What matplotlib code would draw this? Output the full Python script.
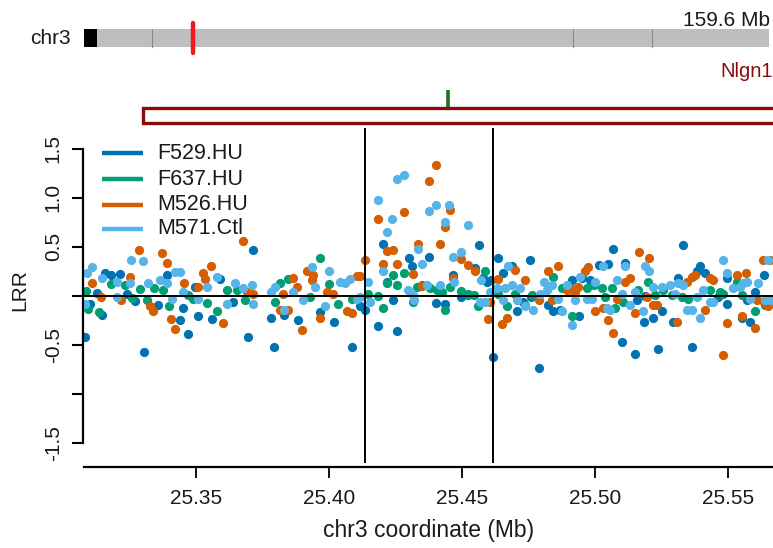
import matplotlib
matplotlib.use("Agg")
import matplotlib.pyplot as plt
from matplotlib.patches import Rectangle
from matplotlib.lines import Line2D

plt.rcParams['font.family'] = ['Liberation Sans', 'DejaVu Sans']

# ---------------- data ----------------
samples = ["F529.HU", "F637.HU", "M526.HU", "M571.Ctl"]
colors = ["#0072B2", "#009E73", "#D55E00", "#56B4E9"]

f529_pos = [25.3084, 25.3102, 25.3130, 25.3146, 25.3215, 25.3307, 25.3391, 25.3441, 25.3453, 25.3472,
            25.3497, 25.3510, 25.3560, 25.3591, 25.3641, 25.3698, 25.3714, 25.3782, 25.3795, 25.3833,
            25.3883, 25.3967, 25.4021, 25.4089, 25.4118, 25.4136, 25.4184, 25.4203, 25.4218, 25.4240,
            25.4256, 25.4301, 25.4314, 25.4376, 25.4402, 25.4437, 25.4468, 25.4497, 25.4525, 25.4550,
            25.4564, 25.4581, 25.4596, 25.4612, 25.4619, 25.4637, 25.4656, 25.4688, 25.4707, 25.4732,
            25.4757, 25.4760, 25.4792, 25.4825, 25.4842, 25.4870, 25.4913, 25.4942, 25.4951, 25.4982,
            25.5017, 25.5051, 25.5070, 25.5101, 25.5114, 25.5151, 25.5158, 25.5185, 25.5189, 25.5220,
            25.5239, 25.5252, 25.5293, 25.5314, 25.5331, 25.5365, 25.5383, 25.5396, 25.5415, 25.5465,
            25.5496, 25.5498, 25.5553, 25.5572, 25.5584, 25.5603, 25.5637,
            25.3160, 25.3180, 25.3240, 25.3270, 25.3360]
f529_lrr = [-0.42, -0.08, 0.03, -0.20, 0.22, -0.57, 0.21, -0.25, -0.13, -0.39,
            0.09, -0.21, -0.24, 0.17, -0.06, -0.42, 0.47, -0.23, -0.52, -0.20,
            -0.25, -0.17, -0.27, -0.52, -0.11, -0.15, -0.31, 0.53, 0.14, -0.04,
            -0.36, 0.38, 0.30, 0.39, -0.07, -0.08, 0.21, -0.01, 0.01, 0.28,
            0.52, 0.18, 0.14, 0.16, -0.63, 0.38, 0.23, 0.30, -0.16, -0.06,
            0.36, -0.01, -0.74, -0.09, -0.16, -0.15, 0.16, -0.21, 0.18, 0.16,
            0.31, 0.32, 0.48, -0.47, 0.33, -0.59, -0.04, -0.27, 0.00, -0.23,
            -0.54, -0.16, -0.27, 0.18, 0.52, -0.52, 0.25, 0.30, 0.23, -0.01,
            -0.08, 0.18, -0.23, -0.04, -0.27, 0.04, 0.21,
            0.23, 0.21, 0.02, -0.05, -0.10]

f637_pos = [25.3087, 25.3137, 25.3234, 25.3290, 25.3316, 25.3378, 25.3401, 25.3491, 25.3541, 25.3579,
            25.3616, 25.3654, 25.3685, 25.3798, 25.3817, 25.3848, 25.3930, 25.3967, 25.4002, 25.4036,
            25.4086, 25.4149, 25.4184, 25.4203, 25.4218, 25.4240, 25.4256, 25.4283, 25.4316, 25.4331,
            25.4352, 25.4381, 25.4406, 25.4425, 25.4437, 25.4456, 25.4497, 25.4525, 25.4546, 25.4562,
            25.4588, 25.4637, 25.4669, 25.4700, 25.4738, 25.4763, 25.4844, 25.4876, 25.4907, 25.4913,
            25.4970, 25.4997, 25.5026, 25.5039, 25.5064, 25.5076, 25.5107, 25.5164, 25.5202, 25.5227,
            25.5258, 25.5290, 25.5327, 25.5352, 25.5434, 25.5471, 25.5484, 25.5534, 25.5553, 25.5603,
            25.5640,
            25.3095, 25.3180, 25.3260, 25.3345, 25.3470]
f637_lrr = [0.05, -0.17, 0.11, 0.07, -0.04, 0.06, -0.11, -0.03, -0.07, -0.16,
            0.06, 0.06, -0.04, -0.06, 0.13, 0.17, -0.01, 0.38, 0.12, -0.08,
            -0.03, 0.02, 0.00, -0.13, 0.13, 0.21, 0.11, 0.23, -0.06, 0.09,
            0.11, 0.08, 0.06, 0.04, -0.15, 0.09, 0.05, 0.02, 0.01, -0.11,
            0.25, 0.02, -0.11, 0.02, -0.09, 0.01, 0.19, 0.08, 0.08, -0.21,
            0.08, 0.11, 0.08, -0.01, 0.08, -0.13, -0.06, 0.06, 0.14, 0.01,
            0.06, 0.01, -0.01, -0.03, 0.06, 0.04, 0.02, 0.14, 0.01, -0.16,
            -0.09,
            -0.14, 0.12, -0.02, 0.08, 0.01]

m526_pos = [25.3112, 25.3143, 25.3219, 25.3253, 25.3288, 25.3328, 25.3338, 25.3372, 25.3393, 25.3406,
            25.3422, 25.3456, 25.3510, 25.3529, 25.3535, 25.3557, 25.3604, 25.3679, 25.3692, 25.3717,
            25.3817, 25.3829, 25.3848, 25.3867, 25.3880, 25.3898, 25.3917, 25.3936, 25.3942, 25.3967,
            25.3992, 25.4017, 25.4068, 25.4086, 25.4105, 25.4118, 25.4136, 25.4184, 25.4203, 25.4220,
            25.4240, 25.4257, 25.4282, 25.4316, 25.4335, 25.4352, 25.4376, 25.4402, 25.4418, 25.4437,
            25.4456, 25.4468, 25.4497, 25.4525, 25.4550, 25.4600, 25.4606, 25.4637, 25.4650, 25.4669,
            25.4700, 25.4738, 25.4792, 25.4825, 25.4838, 25.4861, 25.4895, 25.4913, 25.4926, 25.4938,
            25.4963, 25.4976, 25.5001, 25.5032, 25.5051, 25.5070, 25.5083, 25.5114, 25.5133, 25.5151,
            25.5168, 25.5196, 25.5205, 25.5220, 25.5233, 25.5308, 25.5346, 25.5365, 25.5377, 25.5415,
            25.5434, 25.5446, 25.5481, 25.5498, 25.5534, 25.5553, 25.5569, 25.5603, 25.5609, 25.5634,
            25.5637, 25.5652, 25.5659]
m526_lrr = [0.13, -0.01, -0.04, 0.19, 0.47, -0.11, -0.16, 0.44, 0.33, -0.24,
            -0.34, 0.13, 0.09, 0.23, 0.17, 0.30, -0.28, 0.56, 0.04, 0.02,
            -0.15, 0.02, -0.15, 0.18, 0.09, -0.35, 0.25, 0.16, 0.21, -0.23,
            0.04, 0.02, -0.16, -0.18, 0.20, 0.20, 0.36, 0.78, 0.32, 0.46,
            0.47, 0.32, 0.85, 0.22, 0.53, 0.10, 1.17, 1.33, 0.53, 0.70,
            0.87, 0.18, 0.37, 0.31, 0.25, -0.24, -0.06, 0.17, -0.29, -0.23,
            0.26, 0.16, -0.04, 0.25, -0.04, 0.30, 0.06, 0.06, 0.04, 0.09,
            0.25, 0.29, -0.16, -0.13, -0.25, -0.38, -0.03, 0.14, 0.18, -0.18,
            0.45, -0.01, 0.38, -0.09, -0.09, -0.27, 0.14, 0.19, 0.21, -0.15,
            0.18, 0.16, -0.61, -0.28, 0.21, -0.21, 0.23, -0.33, -0.04, 0.36,
            -0.06, -0.11, 0.36]

m571_pos = [25.3084, 25.3090, 25.3110, 25.3146, 25.3203, 25.3205, 25.3253, 25.3255, 25.3303, 25.3322,
            25.3366, 25.3393, 25.3410, 25.3422, 25.3441, 25.3453, 25.3510, 25.3541, 25.3579, 25.3616,
            25.3648, 25.3679, 25.3710, 25.3717, 25.3782, 25.3798, 25.3833, 25.3867, 25.3904, 25.3936,
            25.3948, 25.3986, 25.4001, 25.4042, 25.4061, 25.4080, 25.4105, 25.4118, 25.4149, 25.4155,
            25.4184, 25.4203, 25.4220, 25.4239, 25.4256, 25.4283, 25.4299, 25.4316, 25.4321, 25.4335,
            25.4352, 25.4368, 25.4376, 25.4402, 25.4418, 25.4437, 25.4453, 25.4468, 25.4470, 25.4497,
            25.4525, 25.4569, 25.4571, 25.4588, 25.4606, 25.4631, 25.4656, 25.4662, 25.4675, 25.4688,
            25.4707, 25.4719, 25.4738, 25.4769, 25.4794, 25.4809, 25.4819, 25.4838, 25.4863, 25.4876,
            25.4895, 25.4913, 25.4926, 25.4945, 25.4970, 25.4989, 25.5001, 25.5032, 25.5045, 25.5058,
            25.5083, 25.5101, 25.5114, 25.5133, 25.5151, 25.5183, 25.5189, 25.5205, 25.5220, 25.5252,
            25.5283, 25.5302, 25.5314, 25.5333, 25.5346, 25.5365, 25.5383, 25.5396, 25.5408, 25.5434,
            25.5446, 25.5481, 25.5498, 25.5521, 25.5546, 25.5559, 25.5572, 25.5584, 25.5615, 25.5640,
            25.5652, 25.5659]
m571_lrr = [-0.08, 0.23, 0.29, 0.18, -0.01, 0.14, 0.13, 0.36, 0.35, 0.13,
            0.16, 0.13, -0.03, 0.24, 0.24, 0.04, -0.03, 0.09, 0.19, -0.08,
            0.13, 0.08, 0.11, -0.08, 0.04, 0.09, -0.15, 0.04, -0.04, 0.29,
            0.09, -0.11, 0.25, 0.14, 0.13, 0.17, -0.03, -0.01, 0.14, -0.06,
            0.98, 0.25, 0.65, 0.78, 1.19, 1.23, 0.06, 0.01, -0.04, 0.48,
            0.32, 0.11, 0.86, 0.93, 0.11, 0.75, 0.93, 0.39, 0.14, 0.45,
            0.72, -0.06, 0.16, -0.06, 0.04, 0.08, -0.04, 0.08, 0.30, 0.11,
            -0.04, 0.08, -0.11, -0.15, 0.02, 0.14, 0.06, 0.11, -0.03, -0.16,
            0.11, -0.30, -0.04, 0.19, -0.03, -0.03, 0.14, 0.30, -0.13, -0.15,
            0.16, 0.02, 0.30, -0.09, 0.04, -0.16, 0.30, 0.25, 0.09, 0.09,
            0.11, 0.02, 0.13, 0.11, -0.15, -0.15, -0.01, -0.23, 0.06, -0.06,
            -0.06, 0.36, 0.23, 0.08, 0.09, 0.13, 0.14, -0.03, 0.13, -0.04,
            0.36, -0.04]

cnv_bounds = [25.4135, 25.4617]          # region boundaries (Mb)
xticks = [25.35, 25.40, 25.45, 25.50, 25.55]
yticks = [-1.5, -1.0, -0.5, 0.0, 0.5, 1.0, 1.5]
ytick_labels = ["-1.5", "", "-0.5", "", "0.5", "1.0", "1.5"]

chrom_name = "chr3"
chrom_len = 159.6                        # Mb
centromere_end = 3.0
band_edges = [15.8, 113.9, 132.3]
highlight_mb = 25.44

gene_name = "Nlgn1"
gene_start, gene_end = 25.3302, 26.20
gene_mark = 25.4449

# ---------------- layout ----------------
W, H = 773, 548
fig = plt.figure(figsize=(W / 100, H / 100), dpi=100)
fig.patch.set_facecolor("white")


def fx(px):
    return px / W


def fy(py):
    return 1 - py / H


FS = 15
TXT = "#1a1a1a"

# main data panel
x0, x1 = 25.307444, 25.567030
ax = fig.add_axes([fx(82.5), fy(463), fx(773 - 82.5), (463 - 128) / H])
ax.set_xlim(x0, x1)
ax.set_ylim(-1.707, 1.711)

series = [(f529_pos, f529_lrr), (f637_pos, f637_lrr), (m526_pos, m526_lrr), (m571_pos, m571_lrr)]
for (xs, ys), c in zip(series, colors):
    ax.scatter(xs, ys, s=44, color=c, linewidths=0, zorder=2)

ax.axhline(0, color="black", lw=1.4, zorder=3)
for b in cnv_bounds:
    ax.axvline(b, color="black", lw=1.4, zorder=3)

for s in ["top", "right"]:
    ax.spines[s].set_visible(False)
ax.spines["left"].set_bounds(-1.5, 1.5)
ax.spines["left"].set_linewidth(1.6)
ax.spines["bottom"].set_position(("outward", 2.7))
ax.spines["bottom"].set_bounds(25.3080, x1)
ax.spines["bottom"].set_linewidth(1.6)

ax.set_yticks(yticks)
ax.set_yticklabels(ytick_labels, rotation=90, va="center", fontsize=FS, color=TXT)
ax.set_xticks(xticks)
ax.set_xticklabels([f"{t:.2f}" for t in xticks], fontsize=FS, color=TXT)
ax.tick_params(axis="y", length=7.8, width=1.5, pad=6.5)
ax.tick_params(axis="x", length=8.2, width=1.3, pad=8)

fig.text(fx(19.5), fy(290), "LRR", rotation=90, ha="center", va="center", fontsize=15, color=TXT)
fig.text(fx(428.5), fy(531), "chr3 coordinate (Mb)", ha="center", va="center", fontsize=16.5, color=TXT)

# legend
leg_y = [153.3, 179.3, 205, 229]
for name, c, py in zip(samples, colors, leg_y):
    fig.add_artist(Line2D([fx(102), fx(143)], [fy(py), fy(py)], color=c, lw=3.2, solid_capstyle="butt"))
    fig.text(fx(157), fy(py), name, ha="left", va="center", fontsize=15.5, color=TXT)

# chromosome ideogram
iax = fig.add_axes([fx(84), fy(60), fx(769 - 84), 45 / H])
iax.set_xlim(0, chrom_len)
iax.set_ylim(60, 15)
iax.axis("off")
iax.add_patch(Rectangle((centromere_end, 29), chrom_len - centromere_end, 18, facecolor="#BEBEBE", edgecolor="none"))
iax.add_patch(Rectangle((0, 29), centromere_end, 18, facecolor="black", edgecolor="none"))
for e in band_edges:
    iax.plot([e, e], [29, 47], color="#8A8A8A", lw=0.8)
iax.plot([highlight_mb, highlight_mb], [23, 53], color="#EE1C1C", lw=3.2, solid_capstyle="round")
fig.text(fx(71), fy(38.5), chrom_name, ha="right", va="center", fontsize=15, color=TXT)
fig.text(fx(770), fy(20), f"{chrom_len} Mb", ha="right", va="center", fontsize=15, color=TXT)

# gene model track
gax = fig.add_axes([fx(82.5), fy(128), fx(773 - 82.5), 68 / H], sharex=ax)
gax.set_ylim(128, 60)
gax.axis("off")
gax.add_patch(Rectangle((gene_start, 108.3), gene_end - gene_start, 15.2,
                        facecolor="white", edgecolor="#8B0A0A", lw=2.4))
gax.plot([gene_mark, gene_mark], [90, 107], color="#1E6E1E", lw=2.6, solid_capstyle="butt")
fig.text(fx(720), fy(71.5), gene_name, ha="left", va="center", fontsize=14.5, color="#8B0A0A")

fig.savefig("out.png", dpi=100, facecolor="white")
